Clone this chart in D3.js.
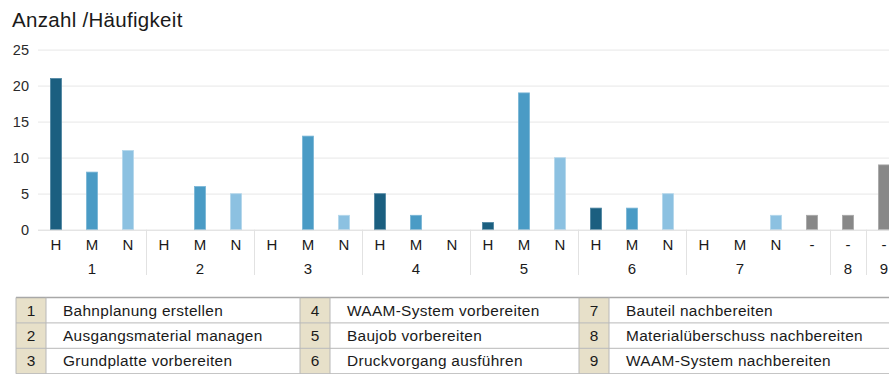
<!DOCTYPE html>
<html>
<head>
<meta charset="utf-8">
<script src="https://cdn.jsdelivr.net/npm/d3@7"></script>
<style>
  html, body { margin: 0; padding: 0; background: #fff; }
  svg { display: block; font-family: "Liberation Sans", Arial, Helvetica, sans-serif; }
</style>
</head>
<body>
<svg id="chart" width="889" height="374"></svg>
<script>
// Process steps (groups) and their rating columns
const groups = ["1", "2", "3", "4", "5", "6", "7", "8", "9"];
const groupSlots = [
  ["H", "M", "N"], ["H", "M", "N"], ["H", "M", "N"], ["H", "M", "N"],
  ["H", "M", "N"], ["H", "M", "N"], ["H", "M", "N", "-"], ["-"], ["-"]
];
// Counts per rating (H = hoch, M = mittel, N = niedrig, - = ohne Bewertung)
const hValues = [21, 0, 0, 5, 1, 3, 0, null, null];
const mValues = [8, 6, 13, 2, 19, 3, 0, null, null];
const nValues = [11, 5, 2, 0, 10, 5, 2, null, null];
const noneValues = [null, null, null, null, null, null, 2, 2, 9];
const yTicks = [0, 5, 10, 15, 20, 25];
const yTitle = "Anzahl /Häufigkeit";

// Legend: step number and description
const stepNames = [
  "Bahnplanung erstellen", "Ausgangsmaterial managen", "Grundplatte vorbereiten",
  "WAAM-System vorbereiten", "Baujob vorbereiten", "Druckvorgang ausführen",
  "Bauteil nachbereiten", "Materialüberschuss nachbereiten", "WAAM-System nachbereiten"
];

const colors = { "H": "#1b5f80", "M": "#4a9bc5", "N": "#8cc1e1", "-": "#888888" };
const strokes = { "H": "#4f86a2", "M": "#7ab6d6", "N": "#b4d7ec", "-": "#a8a8a8" };
const valueSeries = { "H": hValues, "M": mValues, "N": nValues, "-": noneValues };

// Flatten into one slot per bar position
const slots = [];
groups.forEach((g, gi) => {
  groupSlots[gi].forEach(s => {
    slots.push({ id: g + "|" + s, group: g, gi, label: s, value: valueSeries[s][gi] });
  });
});

const svg = d3.select("#chart");
const plotLeft = 38, plotRight = 902, yTop = 49.7, yBottom = 229.7;

const x = d3.scaleBand()
  .domain(slots.map(d => d.id))
  .range([plotLeft, plotRight])
  .paddingInner(0.69)
  .paddingOuter(0.345);
const step = x.step();

const y = d3.scaleLinear().domain([0, 25]).range([yBottom, yTop]);

// Title
svg.append("text")
  .attr("x", 12).attr("y", 27)
  .attr("font-size", 20.5).attr("letter-spacing", 0.3).attr("fill", "#1a1a1a")
  .text(yTitle);

// Gridlines + y tick labels
const yAxis = svg.append("g")
  .attr("transform", `translate(${plotLeft},0)`)
  .call(d3.axisLeft(y).tickValues(yTicks).tickSize(0).tickPadding(9));
yAxis.select(".domain").remove();
yAxis.selectAll("text")
  .attr("font-size", 14.5).attr("fill", "#2a2a2a")
  .attr("font-family", "Liberation Sans, Arial, sans-serif");

svg.append("g").selectAll("line")
  .data(yTicks.filter(t => t > 0))
  .join("line")
  .attr("x1", plotLeft).attr("x2", 889)
  .attr("y1", d => y(d) + 0.5).attr("y2", d => y(d) + 0.5)
  .attr("stroke", "#ececec").attr("stroke-width", 1.2);

// Bars
svg.append("g").selectAll("rect")
  .data(slots.filter(d => d.value))
  .join("rect")
  .attr("x", d => x(d.id))
  .attr("width", x.bandwidth())
  .attr("y", d => y(d.value))
  .attr("height", d => y(0) - y(d.value))
  .attr("fill", d => colors[d.label])
  .attr("stroke", d => strokes[d.label])
  .attr("stroke-width", 0.8);

// Baseline
svg.append("line")
  .attr("x1", plotLeft).attr("x2", 889)
  .attr("y1", y(0) + 0.5).attr("y2", y(0) + 0.5)
  .attr("stroke", "#d8d8d8").attr("stroke-width", 1);

// Rating labels under each bar
svg.append("g").selectAll("text")
  .data(slots)
  .join("text")
  .attr("x", d => x(d.id) + x.bandwidth() / 2)
  .attr("y", 249.5)
  .attr("text-anchor", "middle")
  .attr("font-size", 15).attr("fill", "#1a1a1a")
  .text(d => d.label);

// Group separators
const groupInfo = groups.map((g, gi) => {
  const own = slots.filter(s => s.gi === gi);
  const lettered = own.filter(s => s.label !== "-");
  const ref = lettered.length ? lettered : own;
  const cx = d3.mean(ref, s => x(s.id) + x.bandwidth() / 2);
  const start = x(own[0].id) - step * x.paddingInner() / 2;
  return { g, gi, cx, start };
});

svg.append("g").selectAll("line")
  .data(groupInfo.filter(d => d.gi > 0))
  .join("line")
  .attr("x1", d => Math.round(d.start) + 0.5).attr("x2", d => Math.round(d.start) + 0.5)
  .attr("y1", y(0)).attr("y2", 275)
  .attr("stroke", "#e2e2e2").attr("stroke-width", 1);

svg.append("g").selectAll("text")
  .data(groupInfo)
  .join("text")
  .attr("x", d => d.cx)
  .attr("y", 273.5)
  .attr("text-anchor", "middle")
  .attr("font-size", 15).attr("fill", "#1a1a1a")
  .text(d => d.g);

// Legend table
const legend = svg.append("g");
const rowTop = 297.5, rowH = 25.4;
const colStarts = [16, 300, 579];
const numW = 30;

stepNames.forEach((name, i) => {
  const col = Math.floor(i / 3), row = i % 3;
  const x0 = colStarts[col];
  const ty = rowTop + row * rowH;
  legend.append("rect")
    .attr("x", x0).attr("y", ty).attr("width", numW).attr("height", rowH)
    .attr("fill", "#e7e0c9");
  legend.append("text")
    .attr("x", x0 + numW / 2).attr("y", ty + rowH / 2 + 5.4)
    .attr("text-anchor", "middle").attr("font-size", 15.4).attr("fill", "#1a1a1a")
    .text(groups[i]);
  legend.append("text")
    .attr("x", x0 + numW + 17).attr("y", ty + rowH / 2 + 5.4)
    .attr("font-size", 15.4).attr("letter-spacing", 0.33).attr("fill", "#1a1a1a")
    .text(name);
});

// Table grid lines
const gridColor = "#b8b8b8";
for (let r = 0; r <= 3; r++) {
  legend.append("line")
    .attr("x1", 16).attr("x2", 889)
    .attr("y1", rowTop + r * rowH).attr("y2", rowTop + r * rowH)
    .attr("stroke", r === 0 ? "#a8a8a8" : gridColor).attr("stroke-width", r === 0 ? 1.5 : 1);
}
[16, 46, 300, 330, 579, 609].forEach(xv => {
  legend.append("line")
    .attr("x1", xv).attr("x2", xv)
    .attr("y1", rowTop).attr("y2", rowTop + 3 * rowH)
    .attr("stroke", gridColor).attr("stroke-width", 1);
});
</script>
</body>
</html>
